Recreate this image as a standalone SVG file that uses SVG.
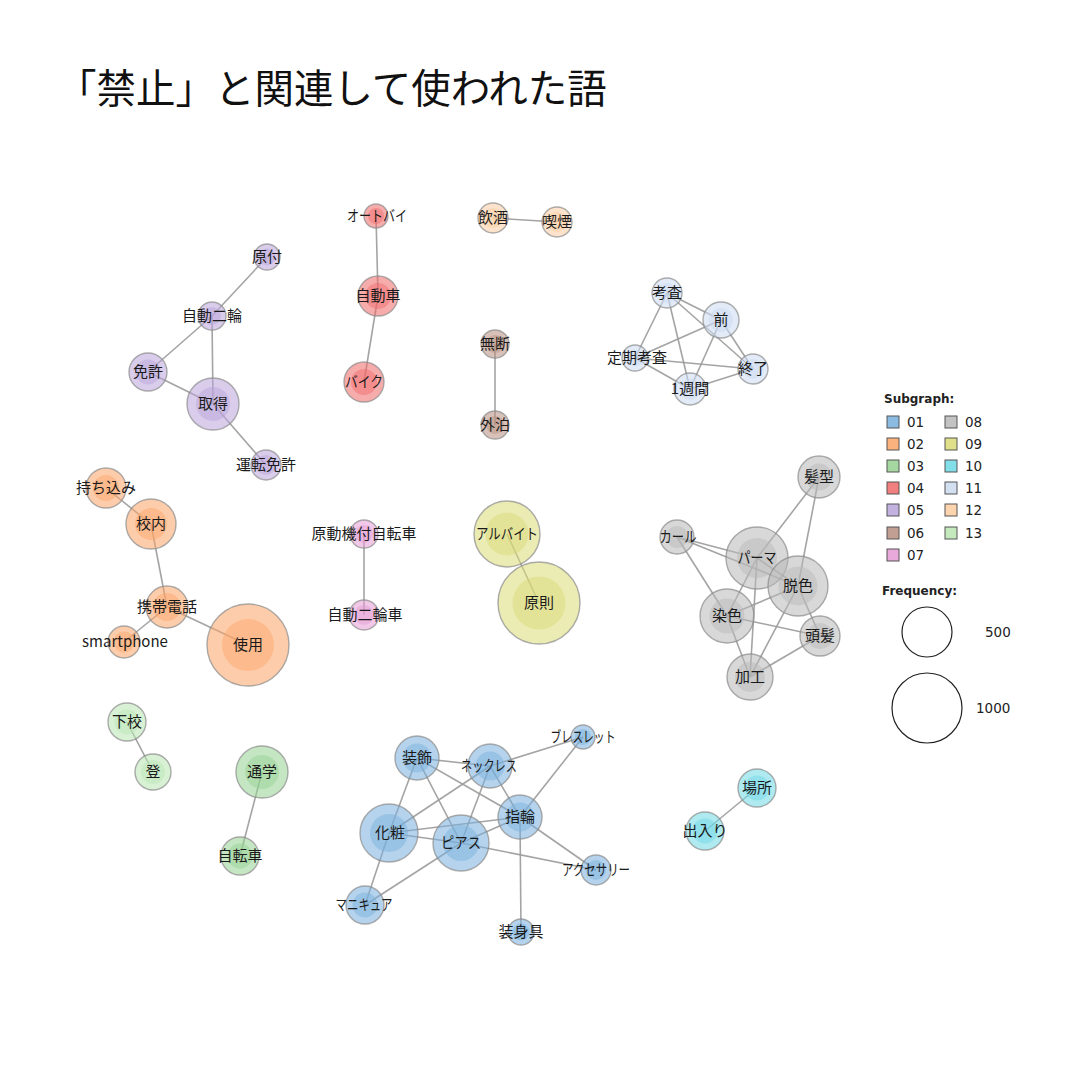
<svg xmlns="http://www.w3.org/2000/svg" width="1080" height="1080" viewBox="0 0 1080 1080">
<style>
.bg{fill:#fff}
.title{font-family:"Noto Sans CJK JP","Noto Sans",sans-serif;font-size:39.5px;fill:#111}
.e line{stroke:#9a9a9a;stroke-width:1.6;stroke-opacity:0.9}
.o{fill-opacity:0.55;stroke:#8a8a8a;stroke-width:1.4;stroke-opacity:0.7}
.i{fill-opacity:0.45}
.lb{font-family:"Noto Sans CJK JP","Noto Sans",sans-serif;font-size:15px;fill:#1a1a1a;text-anchor:middle}
.s01{fill:#78afdc}.s02{fill:#fca466}.s03{fill:#95d191}.s04{fill:#f06868}.s05{fill:#b9a4da}
.s06{fill:#b68e7f}.s07{fill:#e59bd5}.s08{fill:#b8b8b8}.s09{fill:#dada76}.s10{fill:#6cd8e4}
.s11{fill:#cadaf0}.s12{fill:#fbcca0}.s13{fill:#b8e5b2}
.lh{font-family:"DejaVu Sans",sans-serif;font-size:12px;font-weight:bold;fill:#222}
.lt{font-family:"DejaVu Sans",sans-serif;font-size:13.5px;fill:#222}
.sq{stroke:#555;stroke-width:1;fill-opacity:0.85}
.fc{fill:none;stroke:#222;stroke-width:1.2}
</style>
<rect class="bg" x="0" y="0" width="1080" height="1080"/>
<text class="title" x="57" y="103">「禁止」と関連して使われた語</text>

<g id="connectors" class="e">
<!-- 05 -->
<line x1="267" y1="257" x2="212" y2="316"/>
<line x1="212" y1="316" x2="148" y2="372"/>
<line x1="212" y1="316" x2="213" y2="404"/>
<line x1="148" y1="372" x2="213" y2="404"/>
<line x1="213" y1="404" x2="266" y2="465"/>
<!-- 04 -->
<line x1="376" y1="216" x2="378" y2="296"/>
<line x1="378" y1="296" x2="364" y2="382"/>
<!-- 12 -->
<line x1="493" y1="218" x2="557" y2="222"/>
<!-- 06 -->
<line x1="495" y1="344" x2="495" y2="425"/>
<!-- 11 -->
<line x1="667" y1="293" x2="721" y2="320"/>
<line x1="667" y1="293" x2="635" y2="358"/>
<line x1="667" y1="293" x2="690" y2="389"/>
<line x1="667" y1="293" x2="753" y2="369"/>
<line x1="721" y1="320" x2="635" y2="358"/>
<line x1="721" y1="320" x2="753" y2="369"/>
<line x1="721" y1="320" x2="690" y2="389"/>
<line x1="635" y1="358" x2="753" y2="369"/>
<line x1="635" y1="358" x2="690" y2="389"/>
<line x1="690" y1="389" x2="753" y2="369"/>
<!-- 02 -->
<line x1="106" y1="488" x2="151" y2="524"/>
<line x1="151" y1="524" x2="167" y2="607"/>
<line x1="167" y1="607" x2="124" y2="642"/>
<line x1="167" y1="607" x2="248" y2="645"/>
<!-- 07 -->
<line x1="364" y1="534" x2="364" y2="615"/>
<!-- 09 -->
<line x1="507" y1="534" x2="539" y2="603"/>
<!-- 08 -->
<line x1="677" y1="537" x2="757" y2="558"/>
<line x1="677" y1="537" x2="798" y2="586"/>
<line x1="677" y1="537" x2="727" y2="616"/>
<line x1="819" y1="477" x2="757" y2="558"/>
<line x1="819" y1="477" x2="798" y2="586"/>
<line x1="757" y1="558" x2="727" y2="616"/>
<line x1="757" y1="558" x2="750" y2="677"/>
<line x1="757" y1="558" x2="798" y2="586"/>
<line x1="798" y1="586" x2="727" y2="616"/>
<line x1="798" y1="586" x2="820" y2="636"/>
<line x1="798" y1="586" x2="750" y2="677"/>
<line x1="727" y1="616" x2="820" y2="636"/>
<line x1="727" y1="616" x2="750" y2="677"/>
<line x1="820" y1="636" x2="750" y2="677"/>
<!-- 13 / 03 -->
<line x1="127" y1="722" x2="153" y2="772"/>
<line x1="262" y1="772" x2="240" y2="856"/>
<!-- 10 -->
<line x1="757" y1="788" x2="705" y2="831"/>
<!-- 01 -->
<line x1="417" y1="758" x2="490" y2="766"/>
<line x1="417" y1="758" x2="389" y2="833"/>
<line x1="417" y1="758" x2="461" y2="843"/>
<line x1="417" y1="758" x2="520" y2="817"/>
<line x1="490" y1="766" x2="583" y2="737"/>
<line x1="490" y1="766" x2="389" y2="833"/>
<line x1="490" y1="766" x2="461" y2="843"/>
<line x1="490" y1="766" x2="520" y2="817"/>
<line x1="583" y1="737" x2="520" y2="817"/>
<line x1="520" y1="817" x2="389" y2="833"/>
<line x1="520" y1="817" x2="461" y2="843"/>
<line x1="520" y1="817" x2="596" y2="870"/>
<line x1="520" y1="817" x2="521" y2="932"/>
<line x1="389" y1="833" x2="461" y2="843"/>
<line x1="389" y1="833" x2="365" y2="905"/>
<line x1="461" y1="843" x2="365" y2="905"/>
<line x1="461" y1="843" x2="596" y2="870"/>
</g>

<!-- 05 -->
<g id="n-gentsuki" class="s05"><circle class="o" cx="267" cy="257" r="13"/><circle class="i" cx="267" cy="257" r="8.5"/><text class="lb" x="267" y="262">原付</text></g>
<g id="n-jidounirin" class="s05"><circle class="o" cx="212" cy="316" r="14"/><circle class="i" cx="212" cy="316" r="9"/><text class="lb" x="212" y="321">自動二輪</text></g>
<g id="n-menkyo" class="s05"><circle class="o" cx="148" cy="372" r="19"/><circle class="i" cx="148" cy="372" r="12.5"/><text class="lb" x="148" y="377">免許</text></g>
<g id="n-shutoku" class="s05"><circle class="o" cx="213" cy="404" r="26"/><circle class="i" cx="213" cy="404" r="17"/><text class="lb" x="213" y="409">取得</text></g>
<g id="n-untenmenkyo" class="s05"><circle class="o" cx="266" cy="465" r="15"/><circle class="i" cx="266" cy="465" r="10"/><text class="lb" x="266" y="470">運転免許</text></g>
<!-- 04 -->
<g id="n-autobai" class="s04"><circle class="o" cx="376" cy="216" r="12"/><circle class="i" cx="376" cy="216" r="8"/><text class="lb" x="377" y="221" textLength="60" lengthAdjust="spacingAndGlyphs">オートバイ</text></g>
<g id="n-jidousha" class="s04"><circle class="o" cx="378" cy="296" r="20"/><circle class="i" cx="378" cy="296" r="13"/><text class="lb" x="378" y="301">自動車</text></g>
<g id="n-baiku" class="s04"><circle class="o" cx="364" cy="382" r="20"/><circle class="i" cx="364" cy="382" r="13"/><text class="lb" x="364" y="387" textLength="38" lengthAdjust="spacingAndGlyphs">バイク</text></g>
<!-- 12 -->
<g id="n-inshu" class="s12"><circle class="o" cx="493" cy="218" r="15"/><circle class="i" cx="493" cy="218" r="10"/><text class="lb" x="493" y="223">飲酒</text></g>
<g id="n-kitsuen" class="s12"><circle class="o" cx="557" cy="222" r="15"/><circle class="i" cx="557" cy="222" r="10"/><text class="lb" x="557" y="227">喫煙</text></g>
<!-- 06 -->
<g id="n-mudan" class="s06"><circle class="o" cx="495" cy="344" r="14"/><circle class="i" cx="495" cy="344" r="9"/><text class="lb" x="495" y="349">無断</text></g>
<g id="n-gaihaku" class="s06"><circle class="o" cx="495" cy="425" r="14"/><circle class="i" cx="495" cy="425" r="9"/><text class="lb" x="495" y="430">外泊</text></g>
<!-- 11 -->
<g id="n-kousa" class="s11"><circle class="o" cx="667" cy="293" r="15"/><circle class="i" cx="667" cy="293" r="10"/><text class="lb" x="667" y="298">考査</text></g>
<g id="n-mae" class="s11"><circle class="o" cx="721" cy="320" r="18"/><circle class="i" cx="721" cy="320" r="12"/><text class="lb" x="721" y="325">前</text></g>
<g id="n-teikikousa" class="s11"><circle class="o" cx="635" cy="358" r="13"/><circle class="i" cx="635" cy="358" r="8.5"/><text class="lb" x="637" y="363">定期考査</text></g>
<g id="n-shuryou" class="s11"><circle class="o" cx="753" cy="369" r="15"/><circle class="i" cx="753" cy="369" r="10"/><text class="lb" x="753" y="374">終了</text></g>
<g id="n-isshukan" class="s11"><circle class="o" cx="690" cy="389" r="16"/><circle class="i" cx="690" cy="389" r="10.5"/><text class="lb" x="690" y="394">1週間</text></g>
<!-- 02 -->
<g id="n-mochikomi" class="s02"><circle class="o" cx="106" cy="488" r="20"/><circle class="i" cx="106" cy="488" r="13"/><text class="lb" x="106" y="493">持ち込み</text></g>
<g id="n-kounai" class="s02"><circle class="o" cx="151" cy="524" r="25"/><circle class="i" cx="151" cy="524" r="16"/><text class="lb" x="151" y="529">校内</text></g>
<g id="n-keitaidenwa" class="s02"><circle class="o" cx="167" cy="607" r="21"/><circle class="i" cx="167" cy="607" r="14"/><text class="lb" x="167" y="612">携帯電話</text></g>
<g id="n-smartphone" class="s02"><circle class="o" cx="124" cy="642" r="16"/><circle class="i" cx="124" cy="642" r="10.5"/><text class="lb" x="125" y="647">smartphone</text></g>
<g id="n-shiyou" class="s02"><circle class="o" cx="248" cy="645" r="41"/><circle class="i" cx="248" cy="645" r="26"/><text class="lb" x="248" y="650">使用</text></g>
<!-- 07 -->
<g id="n-gendoukitsuki" class="s07"><circle class="o" cx="364" cy="534" r="14"/><circle class="i" cx="364" cy="534" r="9"/><text class="lb" x="364" y="539">原動機付自転車</text></g>
<g id="n-jidounirinsha" class="s07"><circle class="o" cx="364" cy="615" r="15"/><circle class="i" cx="364" cy="615" r="10"/><text class="lb" x="365" y="620">自動二輪車</text></g>
<!-- 09 -->
<g id="n-arubaito" class="s09"><circle class="o" cx="507" cy="534" r="33"/><circle class="i" cx="507" cy="534" r="21.5"/><text class="lb" x="507" y="539" textLength="62" lengthAdjust="spacingAndGlyphs">アルバイト</text></g>
<g id="n-gensoku" class="s09"><circle class="o" cx="539" cy="603" r="41"/><circle class="i" cx="539" cy="603" r="26.5"/><text class="lb" x="539" y="608">原則</text></g>
<!-- 08 -->
<g id="n-kamigata" class="s08"><circle class="o" cx="819" cy="477" r="21"/><circle class="i" cx="819" cy="477" r="13.5"/><text class="lb" x="819" y="482">髪型</text></g>
<g id="n-kaaru" class="s08"><circle class="o" cx="677" cy="537" r="17"/><circle class="i" cx="677" cy="537" r="11"/><text class="lb" x="678" y="542" textLength="37" lengthAdjust="spacingAndGlyphs">カール</text></g>
<g id="n-paama" class="s08"><circle class="o" cx="757" cy="558" r="31"/><circle class="i" cx="757" cy="558" r="20"/><text class="lb" x="757" y="563" textLength="39" lengthAdjust="spacingAndGlyphs">パーマ</text></g>
<g id="n-dasshoku" class="s08"><circle class="o" cx="798" cy="586" r="30"/><circle class="i" cx="798" cy="586" r="19.5"/><text class="lb" x="798" y="591">脱色</text></g>
<g id="n-senshoku" class="s08"><circle class="o" cx="727" cy="616" r="27"/><circle class="i" cx="727" cy="616" r="17.5"/><text class="lb" x="727" y="621">染色</text></g>
<g id="n-touhatsu" class="s08"><circle class="o" cx="820" cy="636" r="20"/><circle class="i" cx="820" cy="636" r="13"/><text class="lb" x="820" y="641">頭髪</text></g>
<g id="n-kakou" class="s08"><circle class="o" cx="750" cy="677" r="23"/><circle class="i" cx="750" cy="677" r="15"/><text class="lb" x="750" y="682">加工</text></g>
<!-- 13 -->
<g id="n-gekou" class="s13"><circle class="o" cx="127" cy="722" r="19"/><circle class="i" cx="127" cy="722" r="12.5"/><text class="lb" x="127" y="727">下校</text></g>
<g id="n-tou" class="s13"><circle class="o" cx="153" cy="772" r="18"/><circle class="i" cx="153" cy="772" r="12"/><text class="lb" x="153" y="777">登</text></g>
<!-- 03 -->
<g id="n-tsuugaku" class="s03"><circle class="o" cx="262" cy="772" r="26"/><circle class="i" cx="262" cy="772" r="17"/><text class="lb" x="262" y="777">通学</text></g>
<g id="n-jitensha" class="s03"><circle class="o" cx="240" cy="856" r="19"/><circle class="i" cx="240" cy="856" r="12.5"/><text class="lb" x="240" y="861">自転車</text></g>
<!-- 10 -->
<g id="n-basho" class="s10"><circle class="o" cx="757" cy="788" r="19"/><circle class="i" cx="757" cy="788" r="12.5"/><text class="lb" x="757" y="793">場所</text></g>
<g id="n-deiri" class="s10"><circle class="o" cx="705" cy="831" r="19"/><circle class="i" cx="705" cy="831" r="12.5"/><text class="lb" x="705" y="836">出入り</text></g>
<!-- 01 -->
<g id="n-soushoku" class="s01"><circle class="o" cx="417" cy="758" r="22"/><circle class="i" cx="417" cy="758" r="14.5"/><text class="lb" x="417" y="763">装飾</text></g>
<g id="n-nekkuresu" class="s01"><circle class="o" cx="490" cy="766" r="22"/><circle class="i" cx="490" cy="766" r="14.5"/><text class="lb" x="489" y="771" textLength="56" lengthAdjust="spacingAndGlyphs">ネックレス</text></g>
<g id="n-buresuretto" class="s01"><circle class="o" cx="583" cy="737" r="12"/><circle class="i" cx="583" cy="737" r="8"/><text class="lb" x="583" y="742" textLength="65" lengthAdjust="spacingAndGlyphs">ブレスレット</text></g>
<g id="n-yubiwa" class="s01"><circle class="o" cx="520" cy="817" r="22"/><circle class="i" cx="520" cy="817" r="14.5"/><text class="lb" x="520" y="822">指輪</text></g>
<g id="n-keshou" class="s01"><circle class="o" cx="389" cy="833" r="29"/><circle class="i" cx="389" cy="833" r="19"/><text class="lb" x="390" y="838">化粧</text></g>
<g id="n-piasu" class="s01"><circle class="o" cx="461" cy="843" r="28"/><circle class="i" cx="461" cy="843" r="18"/><text class="lb" x="461" y="848" textLength="40" lengthAdjust="spacingAndGlyphs">ピアス</text></g>
<g id="n-akusesarii" class="s01"><circle class="o" cx="596" cy="870" r="15"/><circle class="i" cx="596" cy="870" r="10"/><text class="lb" x="596" y="875" textLength="68" lengthAdjust="spacingAndGlyphs">アクセサリー</text></g>
<g id="n-manikyua" class="s01"><circle class="o" cx="365" cy="905" r="19"/><circle class="i" cx="365" cy="905" r="12.5"/><text class="lb" x="364" y="910" textLength="57" lengthAdjust="spacingAndGlyphs">マニキュア</text></g>
<g id="n-soushingu" class="s01"><circle class="o" cx="521" cy="932" r="13"/><circle class="i" cx="521" cy="932" r="8.5"/><text class="lb" x="521" y="937">装身具</text></g>

<g id="legend">
<text class="lh" x="884" y="403">Subgraph:</text>
<rect class="sq s01" x="887" y="416" width="12" height="12"/><text class="lt" x="907" y="427">01</text>
<rect class="sq s02" x="887" y="438" width="12" height="12"/><text class="lt" x="907" y="449">02</text>
<rect class="sq s03" x="887" y="460" width="12" height="12"/><text class="lt" x="907" y="471">03</text>
<rect class="sq s04" x="887" y="482" width="12" height="12"/><text class="lt" x="907" y="493">04</text>
<rect class="sq s05" x="887" y="504" width="12" height="12"/><text class="lt" x="907" y="515">05</text>
<rect class="sq s06" x="887" y="527" width="12" height="12"/><text class="lt" x="907" y="538">06</text>
<rect class="sq s07" x="887" y="549" width="12" height="12"/><text class="lt" x="907" y="560">07</text>
<rect class="sq s08" x="945" y="416" width="12" height="12"/><text class="lt" x="965" y="427">08</text>
<rect class="sq s09" x="945" y="438" width="12" height="12"/><text class="lt" x="965" y="449">09</text>
<rect class="sq s10" x="945" y="460" width="12" height="12"/><text class="lt" x="965" y="471">10</text>
<rect class="sq s11" x="945" y="482" width="12" height="12"/><text class="lt" x="965" y="493">11</text>
<rect class="sq s12" x="945" y="504" width="12" height="12"/><text class="lt" x="965" y="515">12</text>
<rect class="sq s13" x="945" y="527" width="12" height="12"/><text class="lt" x="965" y="538">13</text>
<text class="lh" x="882" y="595">Frequency:</text>
<circle class="fc" cx="927" cy="632" r="25"/><text class="lt" x="985" y="637">500</text>
<circle class="fc" cx="927" cy="708" r="35"/><text class="lt" x="976" y="713">1000</text>
</g>
</svg>
